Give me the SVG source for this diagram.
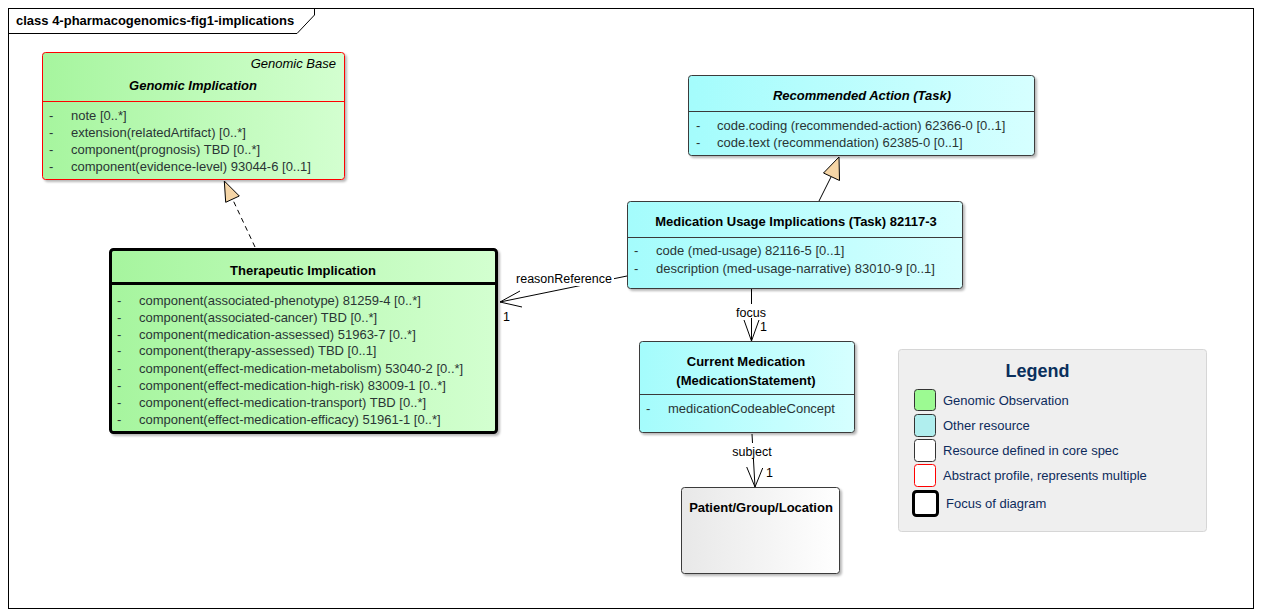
<svg xmlns="http://www.w3.org/2000/svg" width="1261" height="616" viewBox="0 0 1261 616">
<defs>
<linearGradient id="gGreen" x1="0" y1="0" x2="1" y2="0"><stop offset="0" stop-color="#a6f59e"/><stop offset="1" stop-color="#d3ffd0"/></linearGradient>
<linearGradient id="gCyan" x1="0" y1="0" x2="1" y2="0"><stop offset="0" stop-color="#a4fcfc"/><stop offset="1" stop-color="#d6ffff"/></linearGradient>
<linearGradient id="gGray" x1="0" y1="0" x2="1" y2="0"><stop offset="0" stop-color="#e8e8e8"/><stop offset="1" stop-color="#ffffff"/></linearGradient>
<filter id="sh" x="-5%" y="-5%" width="115%" height="120%"><feDropShadow dx="2" dy="2" stdDeviation="1.2" flood-color="#000" flood-opacity="0.28"/></filter>
</defs>
<style>
text{font-family:"Liberation Sans",Arial,sans-serif;}
.title{font-size:13px;font-weight:bold;fill:#000;text-anchor:middle;}
.ital{font-style:italic;}
.attr{font-size:13px;fill:#2a3535;}
.stereo{font-size:13px;font-style:italic;fill:#000;text-anchor:end;}
.box{stroke:#3a3a3a;stroke-width:1;}
.div{stroke:#3a3a3a;stroke-width:1;}
.conn{stroke:#000;stroke-width:1;fill:none;}
.lbl{font-size:12.5px;fill:#000;}
.leg{font-size:13px;fill:#0d2b5c;}
.sw{stroke:#333;stroke-width:1;}
</style>
<rect width="1261" height="616" fill="#fff"/>
<g id="frame">
<rect x="8.5" y="8.5" width="1245" height="600" fill="none" stroke="#000"/>
<path d="M8.5,33.5 H297 L314.5,15 V8.5" fill="none" stroke="#000"/>
<text x="16" y="25" style="font-size:13px;font-weight:bold;fill:#000">class 4-pharmacogenomics-fig1-implications</text>
</g>
<g id="connectors">
<line class="conn" x1="819" y1="201" x2="831" y2="177"/>
<polygon points="839,157 823.5,173 839.5,180.5" fill="#f5d5a6" stroke="#000"/>
<line class="conn" x1="255" y1="247" x2="232.5" y2="199" stroke-dasharray="5,4"/>
<polygon points="224.3,181 225.7,202.3 239.3,196" fill="#f5d5a6" stroke="#000"/>
<line class="conn" x1="627" y1="276" x2="500" y2="302"/>
<polyline class="conn" points="520,291 500,302 522,307"/>
<rect x="514" y="271" width="100" height="15" fill="#fff"/>
<text class="lbl" x="564" y="283" text-anchor="middle">reasonReference</text>
<text class="lbl" x="503" y="321">1</text>
<line class="conn" x1="751.5" y1="289" x2="751.5" y2="341"/>
<polyline class="conn" points="744,320 751.5,341 759,320"/>
<rect x="734" y="304" width="34" height="14" fill="#fff"/>
<text class="lbl" x="751" y="316.5" text-anchor="middle">focus</text>
<text class="lbl" x="760" y="330.5">1</text>
<line class="conn" x1="752" y1="434" x2="755" y2="487"/>
<polyline class="conn" points="746.7,467 755,487 762.7,468"/>
<rect x="731" y="443" width="43" height="15" fill="#fff"/>
<text class="lbl" x="752" y="455.5" text-anchor="middle">subject</text>
<text class="lbl" x="766" y="476.5">1</text>
</g>
<g id="genomic-implication">
<rect x="42.5" y="52.5" width="302" height="127" rx="3" fill="url(#gGreen)" stroke="#f00" filter="url(#sh)"/>
<line x1="42.5" y1="101.5" x2="344.5" y2="101.5" stroke="#f00"/>
<text class="stereo" x="336" y="68">Genomic Base</text>
<text class="title ital" x="193" y="90">Genomic Implication</text>
<text class="attr" x="49" y="119.5">-</text><text class="attr" x="71" y="119.5">note [0..*]</text>
<text class="attr" x="49" y="136.5">-</text><text class="attr" x="71" y="136.5">extension(relatedArtifact) [0..*]</text>
<text class="attr" x="49" y="153.5">-</text><text class="attr" x="71" y="153.5">component(prognosis) TBD [0..*]</text>
<text class="attr" x="49" y="170.5">-</text><text class="attr" x="71" y="170.5">component(evidence-level) 93044-6 [0..1]</text>
</g>
<g id="therapeutic-implication">
<rect x="110.5" y="249.5" width="386" height="183" rx="3" fill="url(#gGreen)" stroke="#000" stroke-width="3" filter="url(#sh)"/>
<line x1="110.5" y1="283.5" x2="496.5" y2="283.5" stroke="#000" stroke-width="3"/>
<text class="title" x="303" y="274.5">Therapeutic Implication</text>
<text class="attr" x="117" y="304.5">-</text><text class="attr" x="139" y="304.5">component(associated-phenotype) 81259-4 [0..*]</text>
<text class="attr" x="117" y="321.5">-</text><text class="attr" x="139" y="321.5">component(associated-cancer) TBD [0..*]</text>
<text class="attr" x="117" y="338.5">-</text><text class="attr" x="139" y="338.5">component(medication-assessed) 51963-7 [0..*]</text>
<text class="attr" x="117" y="355">-</text><text class="attr" x="139" y="355">component(therapy-assessed) TBD [0..1]</text>
<text class="attr" x="117" y="372.5">-</text><text class="attr" x="139" y="372.5">component(effect-medication-metabolism) 53040-2 [0..*]</text>
<text class="attr" x="117" y="389.5">-</text><text class="attr" x="139" y="389.5">component(effect-medication-high-risk) 83009-1 [0..*]</text>
<text class="attr" x="117" y="406.5">-</text><text class="attr" x="139" y="406.5">component(effect-medication-transport) TBD [0..*]</text>
<text class="attr" x="117" y="423.5">-</text><text class="attr" x="139" y="423.5">component(effect-medication-efficacy) 51961-1 [0..*]</text>
</g>
<g id="recommended-action">
<rect x="688.5" y="75.5" width="346" height="80" rx="3" fill="url(#gCyan)" class="box" filter="url(#sh)"/>
<line class="div" x1="688.5" y1="111.5" x2="1034.5" y2="111.5"/>
<text class="title ital" x="862" y="100">Recommended Action (Task)</text>
<text class="attr" x="696" y="129.5">-</text><text class="attr" x="717" y="129.5">code.coding (recommended-action) 62366-0 [0..1]</text>
<text class="attr" x="696" y="147">-</text><text class="attr" x="717" y="147">code.text (recommendation) 62385-0 [0..1]</text>
</g>
<g id="medication-usage">
<rect x="627.5" y="201.5" width="335" height="87" rx="3" fill="url(#gCyan)" class="box" filter="url(#sh)"/>
<line class="div" x1="627.5" y1="237.5" x2="962.5" y2="237.5"/>
<text class="title" x="796" y="226">Medication Usage Implications (Task) 82117-3</text>
<text class="attr" x="634" y="255">-</text><text class="attr" x="656" y="255">code (med-usage) 82116-5 [0..1]</text>
<text class="attr" x="634" y="272.5">-</text><text class="attr" x="656" y="272.5">description (med-usage-narrative) 83010-9 [0..1]</text>
</g>
<g id="current-medication">
<rect x="639.5" y="341.5" width="215" height="91" rx="3" fill="url(#gCyan)" class="box" filter="url(#sh)"/>
<line class="div" x1="639.5" y1="394.5" x2="854.5" y2="394.5"/>
<text class="title" x="746" y="365.5">Current Medication</text>
<text class="title" x="746" y="384.5">(MedicationStatement)</text>
<text class="attr" x="646" y="413">-</text><text class="attr" x="668" y="413">medicationCodeableConcept</text>
</g>
<g id="patient">
<rect x="681.5" y="487.5" width="158" height="86" rx="3" fill="url(#gGray)" class="box" filter="url(#sh)"/>
<text class="title" x="761" y="512">Patient/Group/Location</text>
</g>
<g id="legend">
<rect x="898.5" y="349.5" width="308" height="182" rx="3" fill="#efefef" stroke="#d6d6d6"/>
<text x="1037.5" y="376.5" text-anchor="middle" style="font-size:18px;font-weight:bold;fill:#0a2f5c">Legend</text>
<rect class="sw" x="914.5" y="389.5" width="21" height="21" rx="3" fill="#9cfa92"/>
<text class="leg" x="943" y="405">Genomic Observation</text>
<rect class="sw" x="914.5" y="414.5" width="21" height="22" rx="3" fill="#b0eeee"/>
<text class="leg" x="943" y="430">Other resource</text>
<rect class="sw" x="914.5" y="439.5" width="21" height="22" rx="3" fill="#fff"/>
<text class="leg" x="943" y="455">Resource defined in core spec</text>
<rect x="914.5" y="464.5" width="21" height="22" rx="3" fill="#fff" stroke="#f00"/>
<text class="leg" x="943" y="480">Abstract profile, represents multiple</text>
<rect x="913.5" y="491.5" width="24" height="24" rx="3" fill="#fff" stroke="#000" stroke-width="3"/>
<text class="leg" x="946" y="508">Focus of diagram</text>
</g>
</svg>
